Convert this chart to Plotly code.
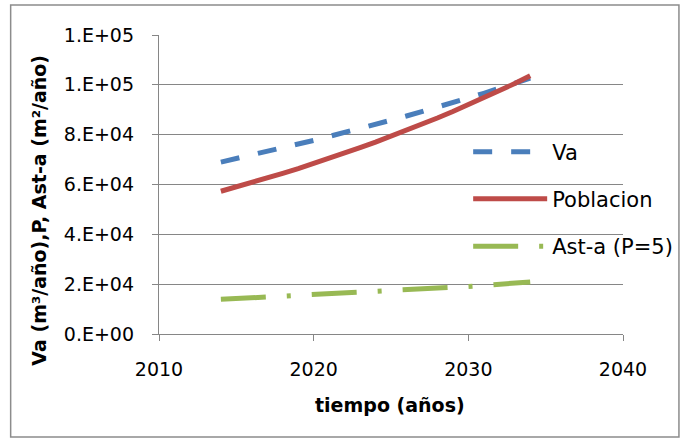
import plotly.graph_objects as go

years = list(range(2014, 2035))
va = [69000, 70400, 71800, 73200, 74700, 76200, 77700, 79300, 80800, 82500, 84100,
      85800, 87500, 89200, 91000, 92900, 94700, 96600, 98500, 100500, 102700]
poblacion = [57300, 59000, 60800, 62600, 64500, 66400, 68400, 70500, 72600, 74800, 77000,
             79300, 81700, 84200, 86700, 89300, 92000, 94700, 97600, 100500, 103600]
ast_a = [13900, 14200, 14500, 14700, 15000, 15300, 15600, 15900, 16300, 16600, 16900,
         17300, 17600, 18000, 18300, 18700, 19100, 19500, 20000, 20400, 20900]

y_tickvals = [0, 20000, 40000, 60000, 80000, 100000, 120000]
y_ticktext = ["0.E+00", "2.E+04", "4.E+04", "6.E+04", "8.E+04", "1.E+05", "1.E+05"]
x_tickvals = [2010, 2020, 2030, 2040]

BLUE = "#4A7EBB"
RED = "#BE4B48"
GREEN = "#98B954"
GRID = "#868686"
FONT = "DejaVu Sans"

fig = go.Figure()
fig.add_trace(go.Scatter(x=years, y=va, mode="lines", name="Va", legend="legend",
                         line=dict(color=BLUE, width=5, dash="19px,19px")))
fig.add_trace(go.Scatter(x=years, y=poblacion, mode="lines", name="Poblacion", legend="legend2",
                         line=dict(color=RED, width=5)))
fig.add_trace(go.Scatter(x=years, y=ast_a, mode="lines", name="Ast-a (P=5)", legend="legend3",
                         line=dict(color=GREEN, width=5, dash="45px,21px,4px,21px")))

L = 158.5
R = 623
T = 35
B = 334
W, H = 683, 438
pw = R - L
ph = B - T

def px_x(v):
    return (v - L) / pw

def px_y(v):
    return (B - v) / ph

leg_common = dict(xanchor="left", yanchor="middle", bgcolor="rgba(0,0,0,0)",
                  borderwidth=0, font=dict(family=FONT, size=21, color="#000000"),
                  itemwidth=74, tracegroupgap=0)

LEG_X = 468

fig.update_layout(
    width=W, height=H,
    margin=dict(l=L, r=W - R, t=T, b=H - B, pad=0, autoexpand=False),
    paper_bgcolor="white", plot_bgcolor="white",
    showlegend=True,
    legend=dict(x=px_x(LEG_X), y=px_y(152), **leg_common),
    legend2=dict(x=px_x(LEG_X), y=px_y(199), **leg_common),
    legend3=dict(x=px_x(LEG_X), y=px_y(246.5), **leg_common),
    xaxis=dict(range=[2010, 2040], tickvals=x_tickvals, showgrid=False,
               showline=True, linecolor=GRID, linewidth=1.3,
               ticks="outside", ticklen=6, tickcolor=GRID, tickwidth=1.3,
               tickfont=dict(family=FONT, size=19, color="#000000"),
               ticklabelstandoff=12, zeroline=False, automargin=False),
    yaxis=dict(range=[0, 120000], tickvals=y_tickvals, ticktext=y_ticktext,
               showgrid=True, gridcolor=GRID, gridwidth=1.3,
               showline=True, linecolor=GRID, linewidth=1.3,
               ticks="outside", ticklen=6, tickcolor=GRID, tickwidth=1.3,
               tickfont=dict(family=FONT, size=19, color="#000000"),
               ticklabelstandoff=14, zeroline=False, automargin=False),
    annotations=[
        dict(text="tiempo (años)", xref="paper", yref="paper",
             x=px_x(390), y=px_y(405), xanchor="center", yanchor="middle",
             showarrow=False, font=dict(family=FONT, size=19, color="#000000", weight="bold")),
        dict(text="Va (m³/año),P, Ast-a (m²/año)", xref="paper", yref="paper",
             x=px_x(38), y=px_y(210), xanchor="center", yanchor="middle", textangle=-90,
             showarrow=False, font=dict(family=FONT, size=19, color="#000000", weight="bold")),
    ],
    shapes=[
        dict(type="rect", xref="paper", yref="paper",
             x0=px_x(10), x1=px_x(679), y0=px_y(437), y1=px_y(5),
             line=dict(color="#8C8C8C", width=1.5), fillcolor="rgba(0,0,0,0)", layer="below"),
    ],
)

fig.write_html("out.html", config={"displayModeBar": False},
               post_script="document.body.style.margin='0';document.body.style.overflow='hidden';")
